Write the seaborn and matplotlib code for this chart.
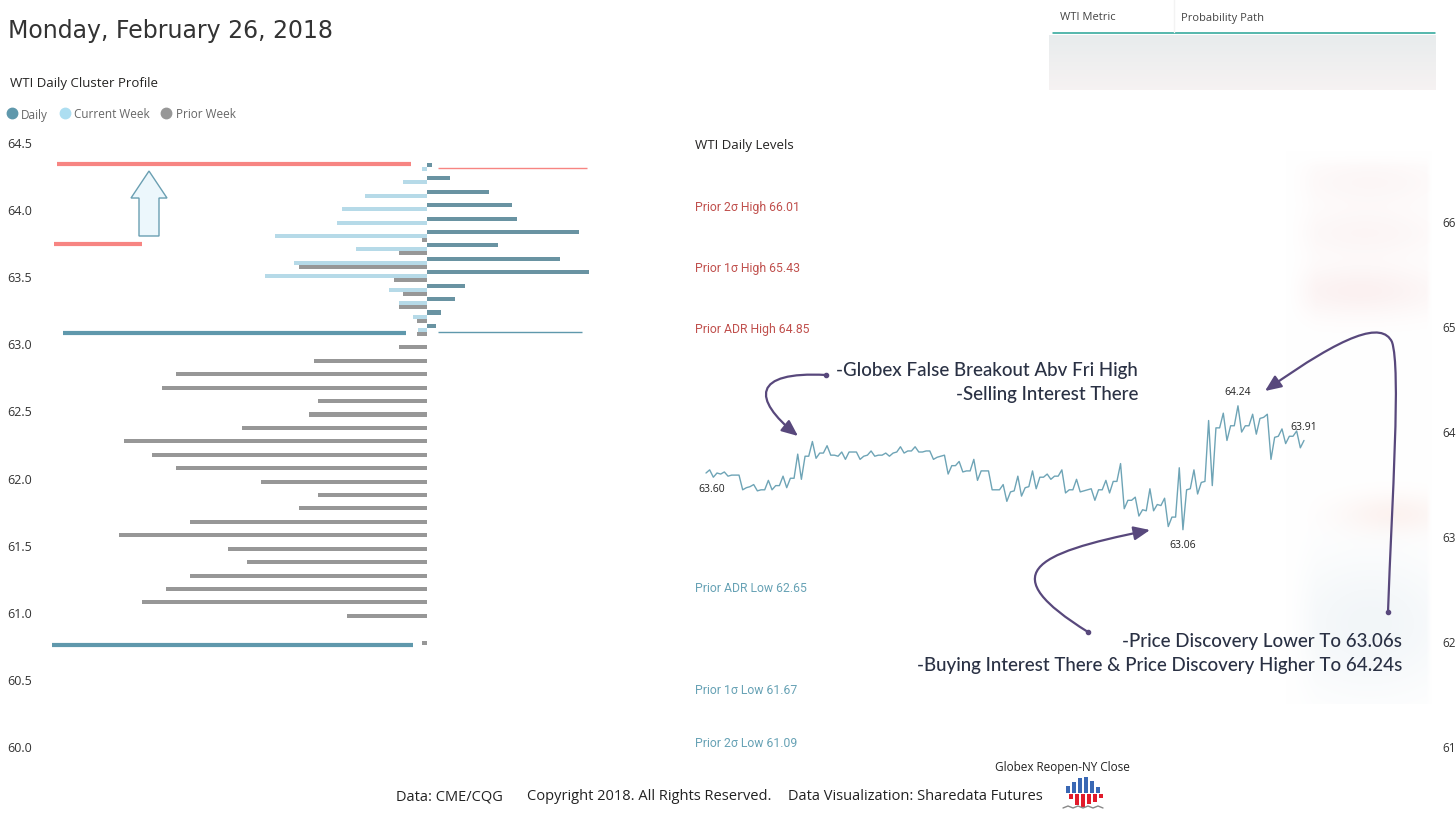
import numpy as np
import pandas as pd
import seaborn as sns
import matplotlib.pyplot as plt
from matplotlib.patches import Polygon, Rectangle, FancyArrowPatch
from matplotlib.path import Path
from matplotlib.lines import Line2D

sns.set_theme(style='white')
plt.rcParams['font.family'] = ['Open Sans', 'DejaVu Sans']

W, H = 1456, 820

# ---- data -------------------------------------------------------------
title = 'Monday, February 26, 2018'

# cluster profile (volume per 0.10 price level)
daily_levels = [64.3, 64.2, 64.1, 64.0, 63.9, 63.8, 63.7, 63.6, 63.5, 63.4, 63.3, 63.2, 63.1]
daily_volume = [5, 23, 62, 85, 90, 152, 71, 133, 162, 38, 28, 14, 9]
week_levels = [64.3, 64.2, 64.1, 64.0, 63.9, 63.8, 63.7, 63.6, 63.5, 63.4, 63.3, 63.2, 63.1]
week_volume = [5, 24, 62, 85, 90, 152, 71, 133, 162, 38, 28, 14, 9]
prior_levels = [63.8, 63.7, 63.6, 63.5, 63.4, 63.3, 63.2, 63.1, 63.0, 62.9,
                62.8, 62.7, 62.6, 62.5, 62.4, 62.3, 62.2, 62.1, 62.0, 61.9,
                61.8, 61.7, 61.6, 61.5, 61.4, 61.3, 61.2, 61.1, 61.0, 60.8]
prior_volume = [5, 28, 128, 33, 24, 28, 10, 10, 28, 113,
                251, 265, 109, 118, 185, 303, 275, 251, 166, 109,
                128, 237, 308, 199, 180, 237, 261, 285, 80, 5]

# marked levels on the profile
high_marks = [64.34, 64.31, 63.74]
low_marks = [63.075, 63.085, 60.75]

# globex reopen -> NY close path
session_price = [
    63.60, 63.63, 63.56, 63.60, 63.59, 63.61, 63.57, 63.58, 63.58, 63.58,
    63.44, 63.46, 63.47, 63.49, 63.43, 63.44, 63.44, 63.53, 63.44, 63.48,
    63.48, 63.57, 63.46, 63.55, 63.55, 63.78, 63.54, 63.76, 63.76, 63.90,
    63.74, 63.79, 63.79, 63.86, 63.77, 63.77, 63.76, 63.80, 63.73, 63.80,
    63.80, 63.80, 63.73, 63.76, 63.77, 63.81, 63.76, 63.77, 63.77, 63.79,
    63.76, 63.79, 63.80, 63.85, 63.79, 63.81, 63.81, 63.85, 63.80, 63.80,
    63.81, 63.81, 63.73, 63.75, 63.76, 63.77, 63.59, 63.67, 63.67, 63.71,
    63.61, 63.62, 63.62, 63.73, 63.53, 63.62, 63.62, 63.62, 63.44, 63.44,
    63.44, 63.49, 63.33, 63.42, 63.43, 63.57, 63.38, 63.46, 63.47, 63.62,
    63.45, 63.56, 63.56, 63.59, 63.54, 63.57, 63.57, 63.63, 63.41, 63.44,
    63.44, 63.54, 63.42, 63.43, 63.44, 63.45, 63.34, 63.44, 63.44, 63.53,
    63.41, 63.52, 63.52, 63.69, 63.26, 63.34, 63.34, 63.37, 63.19, 63.25,
    63.24, 63.45, 63.24, 63.30, 63.29, 63.36, 63.09, 63.18, 63.18, 63.65,
    63.06, 63.44, 63.45, 63.63, 63.40, 63.51, 63.52, 64.10, 63.48, 64.03,
    64.03, 64.17, 63.91, 64.05, 64.05, 64.24, 63.99, 64.05, 64.05, 64.16,
    63.97, 64.12, 64.13, 64.16, 63.73, 63.94, 63.95, 64.02, 63.88, 63.95,
    63.95, 64.00, 63.84, 63.91]

level_names = ['Prior 2σ High', 'Prior 1σ High', 'Prior ADR High',
               'Prior ADR Low', 'Prior 1σ Low', 'Prior 2σ Low']
level_values = [66.01, 65.43, 64.85, 62.65, 61.67, 61.09]

notes_top = ['-Globex False Breakout Abv Fri High', '-Selling Interest There']
notes_bottom = ['-Price Discovery Lower To 63.06s',
                '-Buying Interest There & Price Discovery Higher To 64.24s']

# ---- colours ----------------------------------------------------------
c_daily = '#5f98ac'
c_week = '#addef1'
c_prior = '#979797'
c_red = '#f78582'
c_path = '#6ea4b6'
c_arrow = '#58487c'
c_note = '#2a3144'
palette = {'Daily': c_daily, 'Current Week': c_week, 'Prior Week': c_prior}

fig = plt.figure(figsize=(W / 100, H / 100), dpi=100, facecolor='white')


def px_axes(x0, y0, x1, y1, **kw):
    return fig.add_axes([x0 / W, 1 - y1 / H, (x1 - x0) / W, (y1 - y0) / H], **kw)


# background layer (blurred panels)
bg = px_axes(0, 0, W, H, zorder=0)
bg.set_xlim(0, W)
bg.set_ylim(H, 0)
bg.axis('off')

# blurred table body
tb = np.linspace(0, 1, 30)[:, None, None]
top_c = np.array([0.91, 0.925, 0.93])
bot_c = np.array([0.965, 0.95, 0.95])
table_img = np.repeat(top_c * (1 - tb) + bot_c * tb, 60, axis=1)
bg.imshow(table_img, extent=(1049, 1436, 91, 36), aspect='auto', interpolation='bicubic')
bg.plot([1053, 1435], [33.5, 33.5], color='#26a396', lw=1.1)
bg.plot([1174, 1174], [0, 33], color='#f3f3f3', lw=1)

# blurred side panel of the levels chart
gx, gy = np.meshgrid(np.linspace(1285, 1435, 150), np.linspace(150, 705, 555))
img = np.ones(gx.shape + (3,))
blobs = [(1370, 182, 90, 26, (0.95, 0.84, 0.84), 0.2),
         (1365, 234, 90, 26, (0.95, 0.84, 0.84), 0.22),
         (1360, 292, 90, 26, (0.95, 0.82, 0.82), 0.3),
         (1395, 515, 55, 20, (0.97, 0.82, 0.78), 0.25),
         (1370, 625, 90, 70, (0.90, 0.93, 0.95), 0.5)]
for cx, cy, sx, sy, col, s in blobs:
    w = s * np.exp(-((gx - cx) / sx) ** 2 - ((gy - cy) / sy) ** 2)
    for k in range(3):
        img[..., k] -= w * (1 - col[k])
edge = (np.clip((1432 - gx) / 5, 0, 1) * np.clip((gx - 1286) / 30, 0, 1)
        * np.clip((gy - 152) / 15, 0, 1))
img = 1 - (1 - img) * edge[..., None]
bg.imshow(np.clip(img, 0, 1), extent=(1285, 1435, 705, 150), aspect='auto')

# ---- left: cluster profile --------------------------------------------
ax1 = px_axes(45, 135, 600, 760, zorder=2)
ax1.set_facecolor('none')
cluster = pd.DataFrame({
    'price': daily_levels + week_levels + prior_levels,
    'volume': daily_volume + [-v for v in week_volume] + [-v for v in prior_volume],
    'profile': ['Daily'] * len(daily_levels) + ['Current Week'] * len(week_levels)
               + ['Prior Week'] * len(prior_levels),
})
sns.barplot(data=cluster, x='volume', y='price', hue='profile', orient='y',
            native_scale=True, hue_order=['Prior Week', 'Current Week', 'Daily'],
            palette=palette, width=0.9, gap=0.0, errorbar=None, legend=False,
            linewidth=0, ax=ax1)

# marked levels
ax1.hlines(high_marks[0], -370, -16, color=c_red, lw=3)
ax1.hlines(high_marks[1], 11, 160, color=c_red, lw=1)
ax1.hlines(high_marks[2], -373, -285, color=c_red, lw=3)
ax1.hlines(low_marks[0], -364, -21, color=c_daily, lw=3)
ax1.hlines(low_marks[1], 11, 155, color=c_daily, lw=1)
ax1.hlines(low_marks[2], -375, -14, color=c_daily, lw=3)
ax1.add_patch(Polygon([(-278, 64.284), (-260, 64.083), (-268, 64.083), (-268, 63.80),
                       (-288, 63.80), (-288, 64.083), (-296, 64.083)],
                      closed=True, facecolor='#ecf7fc', edgecolor='#6a9fb2', lw=1))

ax1.set_xlim(-382, 173)
ax1.set_ylim(59.903, 64.56)
ax1.set_yticks(np.arange(60, 64.51, 0.5))
ax1.set_yticklabels([f'{v:.1f}' for v in np.arange(60, 64.51, 0.5)])
ax1.set_xticks([])
ax1.set_xlabel('')
ax1.set_ylabel('')
ax1.tick_params(axis='y', length=0, pad=9.5, labelsize=9, labelcolor='#333333')
sns.despine(ax=ax1, left=True, bottom=True)

handles = [Line2D([], [], marker='o', ls='', color=palette[h], markersize=7.5)
           for h in ['Daily', 'Current Week', 'Prior Week']]
ax1.legend(handles, ['Daily', 'Current Week', 'Prior Week'], loc='center left',
           bbox_to_anchor=(6 / W, 1 - 115 / H), bbox_transform=fig.transFigure,
           ncol=3, frameon=False, handletextpad=0.3, columnspacing=0.9,
           handlelength=1.0, borderaxespad=0, borderpad=0,
           prop={'size': 8.5}, labelcolor='#666666')

# ---- right: session path -----------------------------------------------
ax2 = px_axes(690, 135, 1435, 760, zorder=2)
ax2.set_facecolor('none')
n = len(session_price)
t = np.arange(n)
sns.lineplot(x=t, y=session_price, ax=ax2, color=c_path, linewidth=1.0)
step = (1304 - 706) / (n - 1)
ax2.set_xlim(-(706 - 690) / step, (n - 1) + (1435 - 1304) / step)
ax2.set_ylim(60.876, 66.829)
ax2.yaxis.tick_right()
ax2.set_yticks(range(61, 67))
ax2.set_yticklabels([str(v) for v in range(61, 67)])
ax2.tick_params(axis='y', length=0, pad=5, labelsize=8.5, labelcolor='#333333')
ax2.set_xticks([])
sns.despine(ax=ax2, left=True, bottom=True)

i_min = int(np.argmin(session_price))
i_max = int(np.argmax(session_price))
for i, dx, dy in [(0, 4, -11), (i_min, 0, -11), (i_max, 0, 10), (n - 1, 0, 10)]:
    ax2.annotate(f'{session_price[i]:.2f}', xy=(i, session_price[i]), xytext=(dx, dy),
                 textcoords='offset points', ha='center', va='center',
                 fontsize=7.5, color='#222222')

# ---- foreground layer: titles, notes, arrows ------------------------------
fg = px_axes(0, 0, W, H, zorder=5)
fg.set_facecolor('none')
fg.set_xlim(0, W)
fg.set_ylim(H, 0)
fg.axis('off')

fg.text(8, 31, title, fontsize=17, color='#333333', va='center',
        family=['DejaVu Sans'])
fg.text(10, 84, 'WTI Daily Cluster Profile', fontsize=9.5, color='#252423', va='center')
fg.text(695, 145, 'WTI Daily Levels', fontsize=9.5, color='#252423', va='center')
fg.text(1060, 18, 'WTI Metric', fontsize=8, color='#444444', va='center')
fg.text(1181, 18, 'Probability Path', fontsize=8, color='#444444', va='center')

narrow = ['Roboto', 'DejaVu Sans']
level_y = [208, 269, 330, 589, 691, 744]
for name, val, yy in zip(level_names, level_values, level_y):
    col = '#c0504d' if 'High' in name else '#67a2b5'
    fg.text(695, yy, f'{name} {val:.2f}', fontsize=8.8, color=col, va='center',
            family=narrow)

note_font = ['Lato', 'DejaVu Sans']
for k, s in enumerate(notes_top):
    fg.text(1138, 371 + 24 * k, s, fontsize=13.5, color=c_note, ha='right', va='center',
            family=note_font, weight='medium')
for k, s in enumerate(notes_bottom):
    fg.text(1402, 642 + 24 * k, s, fontsize=13.5, color=c_note, ha='right', va='center',
            family=note_font, weight='medium')

C = Path.CURVE4
arrow_paths = [
    Path([(826, 376), (752, 372), (752, 400), (798, 437)], [Path.MOVETO, C, C, C]),
    Path([(1088, 633), (995, 575), (1030, 555), (1150, 531)], [Path.MOVETO, C, C, C]),
    Path([(1388, 613), (1392, 500), (1401, 370), (1392, 343),
          (1382, 322), (1345, 335), (1265, 392)], [Path.MOVETO, C, C, C, C, C, C]),
]
for p in arrow_paths:
    fg.add_patch(FancyArrowPatch(path=p, arrowstyle='-|>,head_length=0.7,head_width=0.3',
                                 mutation_scale=14, color=c_arrow, lw=1.6,
                                 shrinkA=0, shrinkB=0))
    x0, y0 = p.vertices[0]
    fg.plot([x0], [y0], marker='o', ms=3, color=c_arrow)

# footer
fg.text(1062, 768, 'Globex Reopen-NY Close', fontsize=8.5, color='#222222',
        ha='center', va='center')
fg.text(396, 797, 'Data: CME/CQG', fontsize=10.5, color='#222222', va='center')
fg.text(527, 797, 'Copyright 2018. All Rights Reserved.', fontsize=10.5, color='#222222',
        va='center')
fg.text(788, 797, 'Data Visualization: Sharedata Futures', fontsize=10.5, color='#222222',
        va='center')

# logo
for k, top in enumerate([787, 783, 779, 778, 782, 788]):
    fg.add_patch(Rectangle((1066 + 6 * k, top), 3.5, 794 - top, color='#3a68b4', lw=0))
for k, bot in enumerate([800, 806, 808, 805, 803, 799]):
    fg.add_patch(Rectangle((1069 + 6 * k, 795), 3.5, bot - 795, color='#e11b2b', lw=0))
fg.plot([1063, 1068, 1073, 1078, 1083, 1088, 1093, 1098, 1103],
        [809, 807, 809, 807, 809, 807, 809, 807, 809], color='#888888', lw=1)

fig.savefig('out.png', dpi=100, facecolor='white')
